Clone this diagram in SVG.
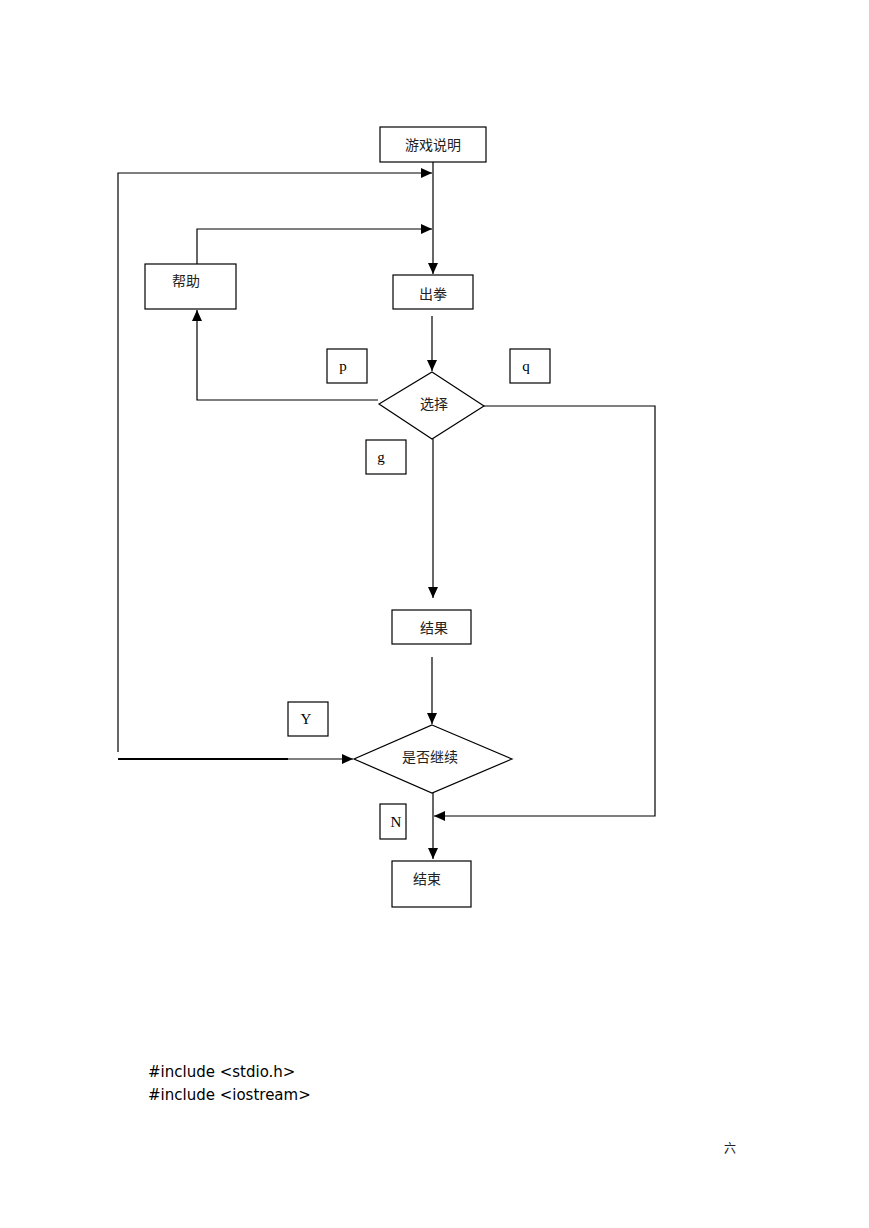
<svg xmlns="http://www.w3.org/2000/svg" width="869" height="1228" viewBox="0 0 869 1228">
<style>
.box{fill:#fff;stroke:#000;stroke-width:1.2}
.lbl{fill:#fff;stroke:#000;stroke-width:1.2}
.ln{fill:none;stroke:#000;stroke-width:1.2}
.cjk{font-family:"Noto Sans CJK SC","Noto Sans CJK JP",sans-serif;font-size:14px;fill:#222;text-anchor:middle}
.let{font-family:"Liberation Serif",serif;font-size:15px;fill:#000;text-anchor:middle}
.code{font-family:"DejaVu Sans",sans-serif;font-size:15px;fill:#000}
</style>
<defs>
<marker id="arr" markerUnits="userSpaceOnUse" markerWidth="12" markerHeight="10" refX="11" refY="5" orient="auto">
<path d="M0,0 L11,5 L0,10 Z" fill="#000"/>
</marker>
</defs>
<rect width="869" height="1228" fill="#fff"/>
<g id="connectors">
<path class="ln" d="M433,162 V274" marker-end="url(#arr)"/>
<path class="ln" d="M118,752 V173 H432" marker-end="url(#arr)"/>
<path class="ln" d="M197,264 V229 H432" marker-end="url(#arr)"/>
<path class="ln" d="M432,316 V371" marker-end="url(#arr)"/>
<path class="ln" d="M378,400 H197 V310" marker-end="url(#arr)"/>
<path class="ln" d="M433,439 V598" marker-end="url(#arr)"/>
<path class="ln" d="M432,657 V724" marker-end="url(#arr)"/>
<path fill="none" stroke="#000" stroke-width="2.2" d="M118,759 H288"/>
<path class="ln" d="M288,759 H353" marker-end="url(#arr)"/>
<path class="ln" d="M484,406 H655 V816 H434" marker-end="url(#arr)"/>
<path class="ln" d="M433,793 V859" marker-end="url(#arr)"/>
</g>
<g id="node-intro"><rect class="box" x="380" y="127" width="106" height="35"/><text class="cjk" x="433" y="150">游戏说明</text></g>
<g id="node-help"><rect class="box" x="145" y="264" width="91" height="45"/><text class="cjk" x="186" y="286">帮助</text></g>
<g id="node-punch"><rect class="box" x="393" y="275" width="80" height="34"/><text class="cjk" x="433" y="299">出拳</text></g>
<g id="node-choose"><polygon class="box" points="432,372 484,406 432,439 379,404"/><text class="cjk" x="434" y="409">选择</text></g>
<g id="label-p"><rect class="lbl" x="327" y="349" width="40" height="34"/><text class="let" x="343" y="371">p</text></g>
<g id="label-q"><rect class="lbl" x="510" y="349" width="40" height="34"/><text class="let" x="526" y="371">q</text></g>
<g id="label-g"><rect class="lbl" x="366" y="440" width="40" height="34"/><text class="let" x="381" y="462">g</text></g>
<g id="node-result"><rect class="box" x="392" y="610" width="79" height="34"/><text class="cjk" x="434" y="633">结果</text></g>
<g id="node-continue"><polygon class="box" points="432,725 512,759 432,793 354,759"/><text class="cjk" x="430" y="762">是否继续</text></g>
<g id="label-Y"><rect class="lbl" x="288" y="702" width="40" height="34"/><text class="let" x="306" y="724">Y</text></g>
<g id="label-N"><rect class="lbl" x="380" y="804" width="26" height="35"/><text class="let" x="396" y="827">N</text></g>
<g id="node-end"><rect class="box" x="392" y="861" width="79" height="46"/><text class="cjk" x="427" y="884">结束</text></g>
<text class="code" x="148" y="1077">#include &lt;stdio.h&gt;</text>
<text class="code" x="148" y="1100">#include &lt;iostream&gt;</text>
<text class="cjk" x="730" y="1153" style="font-size:12px">六</text>
</svg>
